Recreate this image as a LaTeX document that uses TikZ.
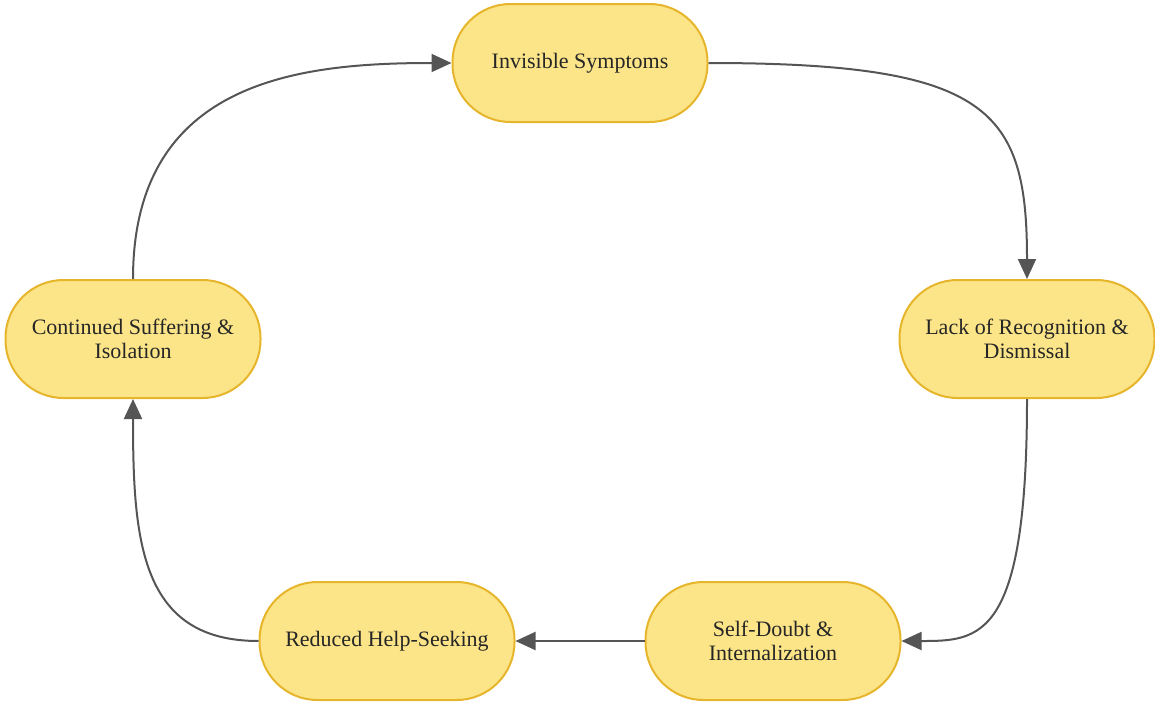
\documentclass[tikz,border=0pt]{standalone}
\usepackage{fontspec}
\setmainfont{Liberation Serif}
\newfontfamily\diagfont{Liberation Serif}
\usetikzlibrary{arrows.meta}
\definecolor{nodefill}{HTML}{FCE588}
\definecolor{nodeborder}{HTML}{E6B52C}
\definecolor{edgecol}{HTML}{555555}
\definecolor{txt}{HTML}{262626}
\begin{document}
\begin{tikzpicture}[x=0.5pt,y=-0.5pt,
  stage/.style={draw=nodeborder, fill=nodefill, line width=1pt, rounded corners=29pt,
    minimum width=127.5pt, minimum height=59pt, inner sep=2pt, align=center,
    text=txt, font=\diagfont\fontsize{11}{12}\selectfont},
  edge/.style={draw=edgecol, line width=1pt, -{Triangle[length=10pt,width=9pt]}}]
\useasboundingbox (0,0) rectangle (1155,702);
\node[stage] (IS) at (580,63) {Invisible Symptoms};
\node[stage] (LR) at (1027,339) {Lack of Recognition \&\\Dismissal};
\node[stage] (SD) at (773,641) {Self-Doubt \&\\Internalization};
\node[stage] (RH) at (387,641) {Reduced Help-Seeking};
\node[stage] (CS) at (133,339) {Continued Suffering \&\\Isolation};
\draw[edge] (IS.east) .. controls (990,63) and (1027,110) .. (LR.north);
\draw[edge] (LR.south) .. controls (1027,640) and (980,641) .. (SD.east);
\draw[edge] (SD.west) -- (RH.east);
\draw[edge] (RH.west) .. controls (140,641) and (133,540) .. (CS.south);
\draw[edge] (CS.north) .. controls (133,80) and (300,63) .. (IS.west);
\end{tikzpicture}
\end{document}
